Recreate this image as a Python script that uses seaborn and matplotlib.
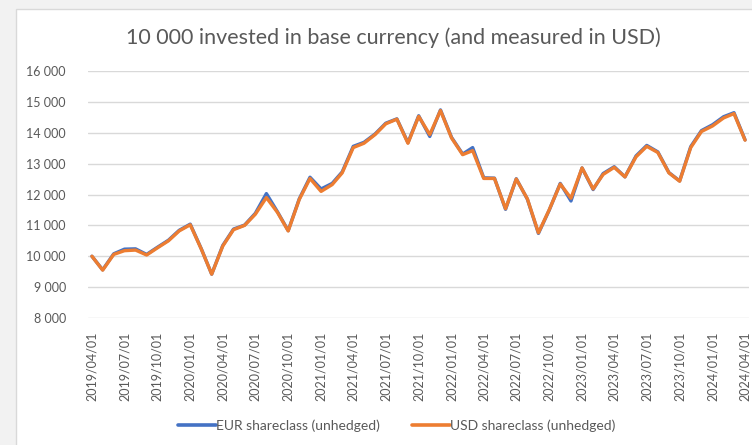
import matplotlib
matplotlib.use("Agg")
import matplotlib.pyplot as plt
from matplotlib.patches import Rectangle
from matplotlib.lines import Line2D
import numpy as np
import pandas as pd
import seaborn as sns

dates = pd.date_range("2019-04-01", "2024-04-01", freq="MS")
usd = [10000, 9550, 10060, 10180, 10200, 10040, 10270, 10500, 10820, 11020,
       10230, 9420, 10330, 10860, 11000, 11360, 11900, 11420, 10820, 11840,
       12520, 12100, 12320, 12700, 13520, 13660, 13940, 14290, 14440, 13660,
       14530, 13940, 14720, 13830, 13290, 13420, 12520, 12520, 11540, 12500,
       11860, 10760, 11500, 12340, 11880, 12860, 12180, 12650, 12880, 12570,
       13220, 13560, 13360, 12700, 12430, 13520, 14040, 14220, 14480, 14620,
       13760]
eur = [10000, 9560, 10080, 10230, 10240, 10060, 10290, 10520, 10840, 11040,
       10240, 9420, 10350, 10880, 11010, 11390, 12030, 11440, 10830, 11860,
       12560, 12180, 12360, 12730, 13560, 13690, 13960, 14310, 14450, 13680,
       14550, 13880, 14740, 13850, 13310, 13520, 12540, 12530, 11520, 12510,
       11850, 10740, 11490, 12360, 11790, 12860, 12160, 12680, 12900, 12570,
       13250, 13590, 13380, 12710, 12440, 13550, 14070, 14260, 14520, 14650,
       13770]
series_names = ["EUR shareclass (unhedged)", "USD shareclass (unhedged)"]
title = "10 000 invested in base currency (and measured in USD)"
yticks = [8000, 9000, 10000, 11000, 12000, 13000, 14000, 15000, 16000]

df = pd.DataFrame({
    "date": list(dates) * 2,
    "value": eur + usd,
    "series": [series_names[0]] * len(eur) + [series_names[1]] * len(usd),
})

sns.set_theme(style="white")
plt.rcParams["font.family"] = ["Lato", "DejaVu Sans"]

W, H = 752, 445
fig = plt.figure(figsize=(W / 100, H / 100), dpi=100)
fig.patch.set_facecolor("#f2f2f2")

bg = fig.add_axes([0, 0, 1, 1], zorder=-5)
bg.set_xlim(0, W)
bg.set_ylim(H, 0)
bg.axis("off")
bg.add_patch(Rectangle((16, 9), W, H, facecolor="white", edgecolor="#d9d9d9", linewidth=1))

ax = fig.add_axes([88 / W, 1 - 318 / H, (749 - 88) / W, (318 - 71) / H], zorder=1)
ax.set_facecolor("none")

palette = {series_names[0]: "#4472C4", series_names[1]: "#ED7D31"}
sns.lineplot(data=df, x="date", y="value", hue="series", palette=palette,
             linewidth=2.4, ax=ax, legend=False)

ax.set_ylim(8000, 16000)
ax.set_yticks(yticks)
ax.set_yticklabels([f"{v:,}".replace(",", " ") for v in yticks])
pad = pd.Timedelta(days=11)
ax.set_xlim(dates[0] - pad, dates[-1] + pad)
ax.set_xticks(dates[::3])
ax.set_xticklabels([d.strftime("%Y/%m/%d") for d in dates[::3]], rotation=90)
ax.tick_params(axis="both", length=0, colors="#595959", labelsize=9)
ax.tick_params(axis="y", pad=16)
ax.tick_params(axis="x", pad=10)
ax.grid(axis="y", color="#d9d9d9", linewidth=1)
ax.set_axisbelow(True)
for s in ax.spines.values():
    s.set_visible(False)
ax.set_xlabel("")
ax.set_ylabel("")

fig.text(393 / W, 1 - 38 / H, title, ha="center", va="center",
         fontsize=15.5, color="#595959")

handles = [Line2D([], [], color=palette[n], linewidth=2.6) for n in series_names]
fig.legend(handles, series_names, loc="center", bbox_to_anchor=(397 / W, 1 - 426 / H),
           ncol=2, frameon=False, fontsize=10, handlelength=2.7, handletextpad=0.05,
           columnspacing=2.3, labelcolor="#595959")

fig.savefig("out.png", dpi=100, facecolor=fig.get_facecolor())
